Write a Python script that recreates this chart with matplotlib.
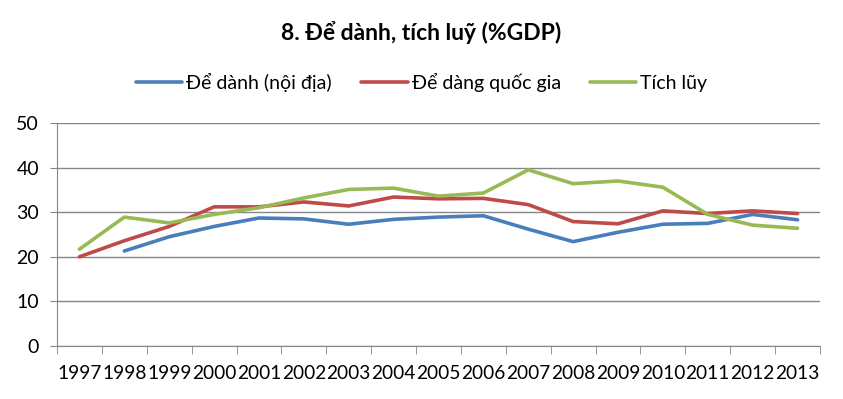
import matplotlib
matplotlib.use("Agg")
import matplotlib.pyplot as plt
import numpy as np

plt.rcParams['font.family'] = ['Lato', 'DejaVu Sans']

years = [str(y) for y in range(1997, 2014)]
de_danh_noi_dia = [np.nan, 21.3, 24.5, 26.8, 28.7, 28.5, 27.3, 28.4, 28.9, 29.2,
                   26.2, 23.4, 25.5, 27.3, 27.5, 29.5, 28.3]
de_danh_quoc_gia = [20.0, 23.6, 26.8, 31.2, 31.2, 32.3, 31.4, 33.4, 33.0, 33.1,
                    31.7, 27.9, 27.4, 30.3, 29.7, 30.3, 29.7]
tich_luy = [21.7, 28.9, 27.6, 29.5, 31.0, 33.2, 35.1, 35.4, 33.6, 34.3,
            39.5, 36.4, 37.0, 35.6, 29.5, 27.1, 26.4]

fig = plt.figure(figsize=(8.43, 3.99), dpi=100)
ax = fig.add_axes([57/843, 1-346/399, (820-57)/843, (346-123)/399])

x = np.arange(len(years))
lw = 2.6
ax.plot(x, de_danh_noi_dia, color='#4A7EBB', lw=lw, label='Để dành (nội địa)', solid_capstyle='round')
ax.plot(x, de_danh_quoc_gia, color='#BE4B48', lw=lw, label='Để dàng quốc gia', solid_capstyle='round')
ax.plot(x, tich_luy, color='#98B954', lw=lw, label='Tích lũy', solid_capstyle='round')

ax.set_xlim(-0.5, len(years) - 0.5)
ax.set_ylim(0, 50)
ax.set_yticks([0, 10, 20, 30, 40, 50])
ax.set_xticks(x)
ax.set_xticklabels(years)
ax.set_xticks(np.arange(-0.5, len(years)), minor=True)
ax.tick_params(axis='x', which='major', length=0, pad=14, labelsize=13.8)
ax.tick_params(axis='x', which='minor', length=6, color='#868686')
ax.tick_params(axis='y', length=5, color='#868686', labelsize=14, pad=8)
ax.grid(axis='y', color='#868686', lw=1)
ax.set_axisbelow(True)
for s in ['top', 'right']:
    ax.spines[s].set_visible(False)
for s in ['left', 'bottom']:
    ax.spines[s].set_color('#868686')

fig.text(0.5, 1-33/399, '8. Để dành, tích luỹ (%GDP)', ha='center', va='center',
         fontsize=16.5, fontweight='bold')
fig.legend(loc='center', bbox_to_anchor=(0.5, 1-82/399), ncol=3, frameon=False,
           fontsize=14, handlelength=2.4, columnspacing=1.5, handletextpad=0.2)

fig.savefig('out.png', dpi=100)
